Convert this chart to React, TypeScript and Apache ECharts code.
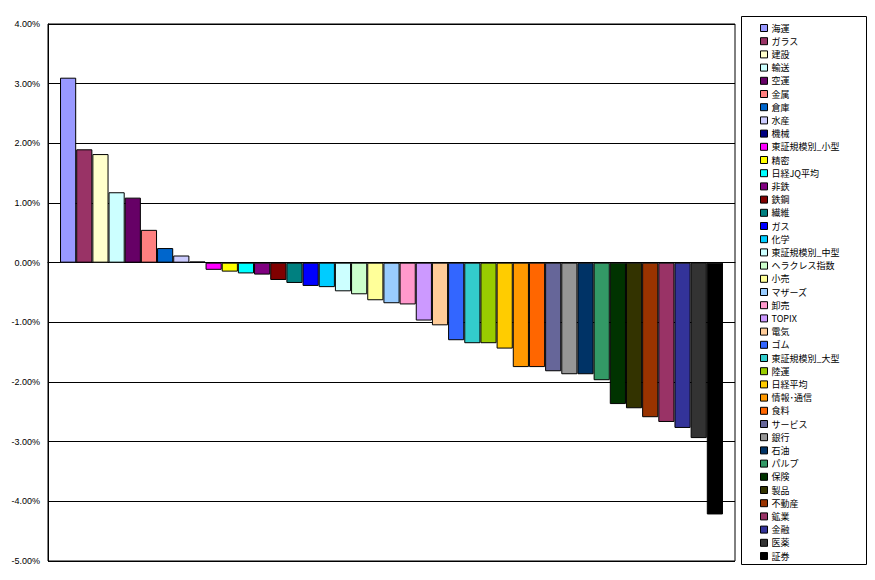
import React, { useEffect, useRef } from 'react';
import * as echarts from 'echarts';

const names = [
  '海運', 'ガラス', '建設', '輸送', '空運', '金属', '倉庫', '水産', '機械', '東証規模別_小型',
  '精密', '日経JQ平均', '非鉄', '鉄鋼', '繊維', 'ガス', '化学', '東証規模別_中型', 'ヘラクレス指数', '小売',
  'マザーズ', '卸売', 'TOPIX', '電気', 'ゴム', '東証規模別_大型', '陸運', '日経平均', '情報･通信', '食料',
  'サービス', '銀行', '石油', 'パルプ', '保険', '製品', '不動産', '鉱業', '金融', '医薬', '証券',
];

const values = [
  3.10, 1.90, 1.82, 1.18, 1.09, 0.55, 0.245, 0.12, 0.02, -0.12,
  -0.15, -0.18, -0.20, -0.29, -0.34, -0.39, -0.41, -0.48, -0.53, -0.63,
  -0.68, -0.70, -0.97, -1.05, -1.30, -1.35, -1.35, -1.44, -1.75, -1.75,
  -1.82, -1.87, -1.87, -1.97, -2.37, -2.44, -2.59, -2.67, -2.77, -2.94, -4.22,
];

const colors = [
  '#9999FF', '#993366', '#FFFFCC', '#CCFFFF', '#660066', '#FF8080', '#0066CC', '#CCCCFF', '#000080', '#FF00FF',
  '#FFFF00', '#00FFFF', '#800080', '#800000', '#008080', '#0000FF', '#00CCFF', '#CCFFFF', '#CCFFCC', '#FFFF99',
  '#99CCFF', '#FF99CC', '#CC99FF', '#FFCC99', '#3366FF', '#33CCCC', '#99CC00', '#FFCC00', '#FF9900', '#FF6600',
  '#666699', '#969696', '#003366', '#339966', '#003300', '#333300', '#993300', '#993366', '#333399', '#333333', '#000000',
];

const yMin = -5;
const yMax = 4;
const yStep = 1;

export default function App() {
  const ref = useRef<HTMLDivElement>(null);
  useEffect(() => {
    const chart = echarts.init(ref.current!, null, { renderer: 'svg' });
    chart.setOption({
      animation: false,
      backgroundColor: '#fff',
      grid: {
        left: 48, top: 24, right: 140, bottom: 19,
        show: true, borderColor: '#000', borderWidth: 1, backgroundColor: '#fff',
      },
      xAxis: {
        type: 'category',
        data: [''],
        axisLine: { show: true, onZero: true, lineStyle: { color: '#000', width: 1 } },
        axisTick: { show: false },
        axisLabel: { show: false },
        splitLine: { show: false },
      },
      yAxis: {
        type: 'value',
        min: yMin,
        max: yMax,
        interval: yStep,
        axisLine: { show: true, lineStyle: { color: '#000', width: 1 } },
        axisTick: { show: false },
        axisLabel: {
          color: '#000',
          fontSize: 9,
          fontFamily: 'Arial, "Liberation Sans", sans-serif',
          margin: 8,
          formatter: (v: number) => v.toFixed(2) + '%',
        },
        splitLine: { show: true, lineStyle: { color: '#000', width: 1 } },
      },
      legend: {
        orient: 'vertical',
        left: 760,
        top: 23,
        padding: 0,
        itemGap: 3.2,
        itemWidth: 7,
        itemHeight: 7,
        icon: 'rect',
        itemStyle: { borderColor: '#000', borderWidth: 1 },
        textStyle: {
          color: '#000',
          fontSize: 9,
          lineHeight: 10,
          fontFamily: '"Noto Sans CJK JP", sans-serif',
          padding: [0, 0, 0, -1],
        },
        data: names,
      },
      graphic: [
        {
          type: 'rect',
          z: -1,
          shape: { x: 741.5, y: 16.5, width: 125, height: 548 },
          style: { fill: '#fff', stroke: '#000', lineWidth: 1 },
        },
      ],
      series: names.map((n, i) => ({
        name: n,
        type: 'bar',
        data: [values[i]],
        barGap: '0%',
        barCategoryGap: '3.5%',
        itemStyle: { color: colors[i], borderColor: '#000', borderWidth: 1 },
      })),
    });
    return () => chart.dispose();
  }, []);
  return (
    <div
      ref={ref}
      style={{ position: 'fixed', left: 0, top: 0, width: 875, height: 580, background: '#fff' }}
    />
  );
}
